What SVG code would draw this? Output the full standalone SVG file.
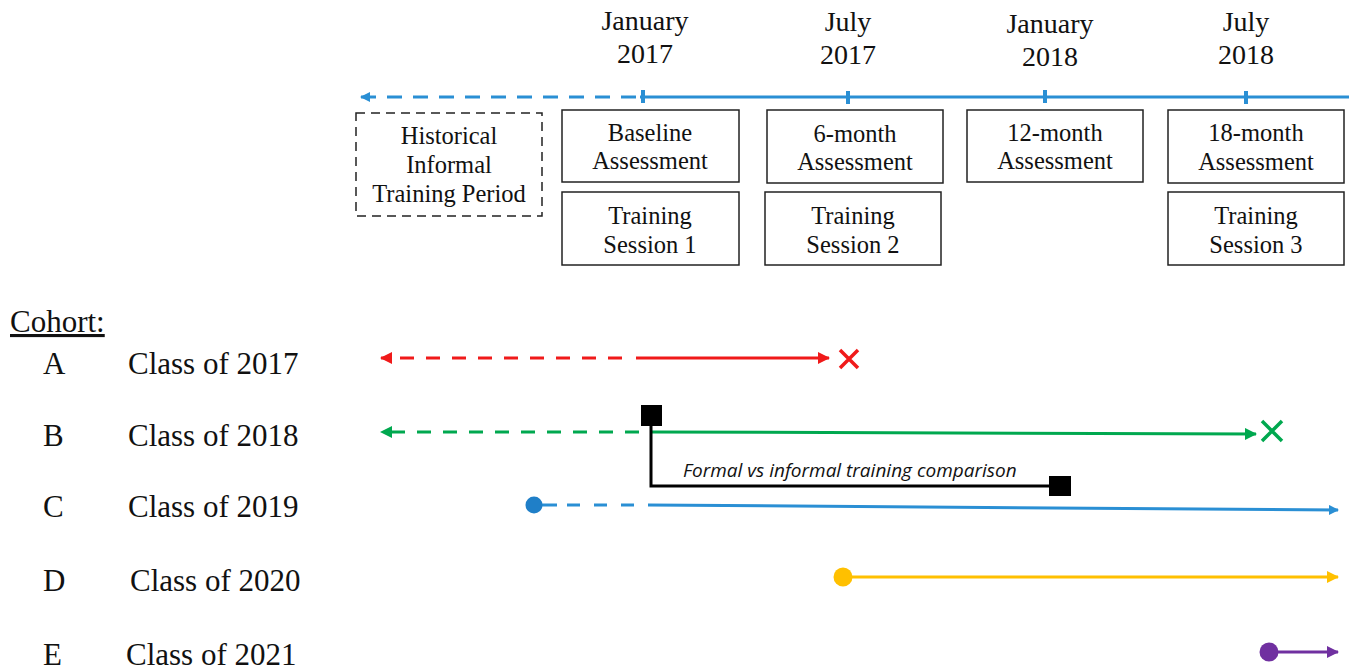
<svg xmlns="http://www.w3.org/2000/svg" width="1349" height="671" viewBox="0 0 1349 671">
<style>
.t{font-family:"Liberation Serif","Times New Roman",serif;fill:#111;text-anchor:middle}
.d{font-size:28px}
.b{font-size:24.5px}
.c{font-family:"Liberation Serif","Times New Roman",serif;fill:#111;font-size:31px}
.box{fill:#fff;stroke:#222;stroke-width:1.5}
.dash{stroke-dasharray:14 12}
</style>
<defs>
<marker id="ab" markerWidth="10" markerHeight="10" refX="9" refY="5" orient="auto-start-reverse" markerUnits="userSpaceOnUse"><path d="M0,0 L10,5 L0,10 z" fill="#2a8fd4"/></marker>
<marker id="ar" markerWidth="12" markerHeight="12" refX="11" refY="6" orient="auto-start-reverse" markerUnits="userSpaceOnUse"><path d="M0,0 L12,6 L0,12 z" fill="#f01a1a"/></marker>
<marker id="ag" markerWidth="12" markerHeight="12" refX="11" refY="6" orient="auto-start-reverse" markerUnits="userSpaceOnUse"><path d="M0,0 L12,6 L0,12 z" fill="#00a84f"/></marker>
<marker id="ay" markerWidth="12" markerHeight="12" refX="11" refY="6" orient="auto" markerUnits="userSpaceOnUse"><path d="M0,0 L12,6 L0,12 z" fill="#ffc000"/></marker>
<marker id="ap" markerWidth="12" markerHeight="12" refX="11" refY="6" orient="auto" markerUnits="userSpaceOnUse"><path d="M0,0 L12,6 L0,12 z" fill="#7030a0"/></marker>
</defs>

<g id="timeline">
<line x1="640" y1="97" x2="1349" y2="97" stroke="#2a8fd4" stroke-width="3"/>
<line x1="636" y1="97" x2="361" y2="97" stroke="#2a8fd4" stroke-width="3" stroke-dasharray="15 11" marker-end="url(#ab)"/>
<g stroke="#2a8fd4" stroke-width="4">
<line x1="643" y1="90" x2="643" y2="103"/>
<line x1="848" y1="91" x2="848" y2="104"/>
<line x1="1045" y1="90" x2="1045" y2="103"/>
<line x1="1246" y1="91" x2="1246" y2="104"/>
</g>
<text class="t d" x="645" y="30">January</text><text class="t d" x="645" y="63">2017</text>
<text class="t d" x="848" y="31">July</text><text class="t d" x="848" y="64">2017</text>
<text class="t d" x="1050" y="33">January</text><text class="t d" x="1050" y="66">2018</text>
<text class="t d" x="1246" y="31">July</text><text class="t d" x="1246" y="64">2018</text>
</g>

<g id="historical">
<rect class="box" x="356" y="113" width="186" height="103" style="stroke-dasharray:9 6"/>
<text class="t b" x="449" y="144">Historical</text>
<text class="t b" x="449" y="173">Informal</text>
<text class="t b" x="449" y="202">Training Period</text>
</g>
<g id="baseline">
<rect class="box" x="562" y="110" width="177" height="72"/>
<text class="t b" x="650" y="141">Baseline</text>
<text class="t b" x="650" y="169">Assessment</text>
</g>
<g id="session1">
<rect class="box" x="562" y="192" width="177" height="73"/>
<text class="t b" x="650" y="224">Training</text>
<text class="t b" x="650" y="253">Session 1</text>
</g>
<g id="month6">
<rect class="box" x="767" y="110" width="176" height="73"/>
<text class="t b" x="855" y="142">6-month</text>
<text class="t b" x="855" y="170">Assessment</text>
</g>
<g id="session2">
<rect class="box" x="765" y="192" width="176" height="73"/>
<text class="t b" x="853" y="224">Training</text>
<text class="t b" x="853" y="253">Session 2</text>
</g>
<g id="month12">
<rect class="box" x="967" y="110" width="176" height="72"/>
<text class="t b" x="1055" y="141">12-month</text>
<text class="t b" x="1055" y="169">Assessment</text>
</g>
<g id="month18">
<rect class="box" x="1168" y="110" width="176" height="73"/>
<text class="t b" x="1256" y="141">18-month</text>
<text class="t b" x="1256" y="170">Assessment</text>
</g>
<g id="session3">
<rect class="box" x="1168" y="192" width="176" height="73"/>
<text class="t b" x="1256" y="224">Training</text>
<text class="t b" x="1256" y="253">Session 3</text>
</g>

<g id="cohort-labels">
<text class="c" x="10" y="332" text-decoration="underline">Cohort:</text>
<text class="c" x="43" y="374">A</text><text class="c" x="128" y="374">Class of 2017</text>
<text class="c" x="43" y="446">B</text><text class="c" x="128" y="446">Class of 2018</text>
<text class="c" x="43" y="517">C</text><text class="c" x="128" y="517">Class of 2019</text>
<text class="c" x="43" y="591">D</text><text class="c" x="130" y="591">Class of 2020</text>
<text class="c" x="43" y="665">E</text><text class="c" x="126" y="665">Class of 2021</text>
</g>

<g id="connectors">
<!-- A -->
<line x1="622" y1="358" x2="381" y2="358" stroke="#f01a1a" stroke-width="3" class="dash" marker-end="url(#ar)"/>
<line x1="636" y1="358" x2="829" y2="358" stroke="#f01a1a" stroke-width="3" marker-end="url(#ar)"/>
<path d="M840,350 L858,368 M858,350 L840,368" stroke="#f01a1a" stroke-width="3.5"/>
<!-- B -->
<line x1="639" y1="432" x2="381" y2="432" stroke="#00a84f" stroke-width="3" class="dash" marker-end="url(#ag)"/>
<line x1="652" y1="432" x2="1256" y2="434" stroke="#00a84f" stroke-width="3" marker-end="url(#ag)"/>
<path d="M1262,421 L1282,441 M1282,421 L1262,441" stroke="#00a84f" stroke-width="3.5"/>
<!-- comparison -->
<path d="M651,426 L651,486 L1052,486" fill="none" stroke="#000" stroke-width="3"/>
<rect x="641" y="405" width="21" height="21" fill="#000"/>
<rect x="1049" y="476" width="22" height="20" fill="#000"/>
<text x="683" y="477" font-family="'Open Sans','Liberation Sans',sans-serif" font-style="italic" font-size="19" fill="#111">Formal vs informal training comparison</text>
<!-- C -->
<line x1="534" y1="505" x2="557" y2="505" stroke="#2a8fd4" stroke-width="3"/>
<line x1="567" y1="505" x2="636" y2="505" stroke="#2a8fd4" stroke-width="3" stroke-dasharray="13 14"/>
<line x1="648" y1="505" x2="1338" y2="510" stroke="#2a8fd4" stroke-width="3" marker-end="url(#ab)"/>
<circle cx="534" cy="505" r="8.5" fill="#1f7fc8"/>
<!-- D -->
<line x1="843" y1="577" x2="1338" y2="577" stroke="#ffc000" stroke-width="3" marker-end="url(#ay)"/>
<circle cx="843" cy="577" r="9.5" fill="#ffc000"/>
<!-- E -->
<line x1="1269" y1="652" x2="1338" y2="652" stroke="#7030a0" stroke-width="3" marker-end="url(#ap)"/>
<circle cx="1269" cy="652" r="9.5" fill="#7030a0"/>
</g>
</svg>
